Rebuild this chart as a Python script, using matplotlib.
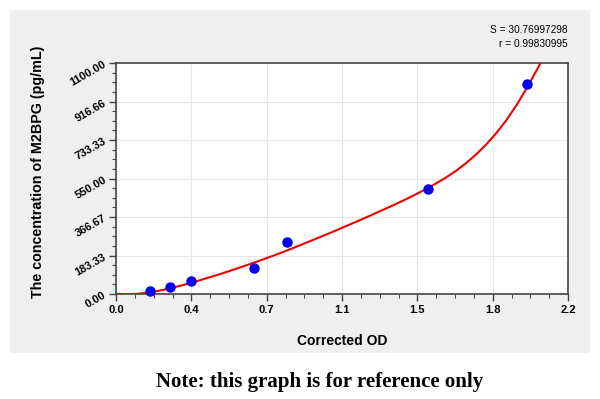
"""
Standard curve for M2BPG ELISA: measured standards and the fitted curve.
"""

# third party imports
import matplotlib
matplotlib.use("Agg")
from matplotlib import pyplot
from matplotlib.patches import Rectangle
from matplotlib.ticker import AutoMinorLocator


# standard points (corrected OD, concentration in pg/mL)
std_od = [0.165, 0.263, 0.363, 0.672, 0.830, 1.520, 2.000]
std_conc = [15.63, 31.25, 62.5, 125.0, 250.0, 500.0, 1000.0]

# fitted curve
curve_od = [0.00, 0.05, 0.09, 0.10, 0.15, 0.20, 0.25, 0.30, 0.35, 0.40,
            0.45, 0.50, 0.55, 0.60, 0.65, 0.70, 0.75, 0.80, 0.85, 0.90,
            0.95, 1.00, 1.05, 1.10, 1.15, 1.20, 1.25, 1.30, 1.35, 1.40,
            1.45, 1.50, 1.55, 1.60, 1.65, 1.70, 1.75, 1.80, 1.85, 1.90,
            1.95, 2.00, 2.05, 2.08]
curve_conc = [0, 0, 0, 0.5, 6, 14, 24, 36, 49, 63,
              78, 93, 109, 125, 142, 159, 177, 195, 214, 234,
              254, 274, 294, 315, 336, 357, 379, 401, 423, 446,
              470, 495, 522, 551, 583, 620, 662, 710, 765, 828,
              900, 982, 1070, 1125]

x_ticks = [0.0, 2.2 / 6, 2.2 * 2 / 6, 1.1, 2.2 * 4 / 6, 2.2 * 5 / 6, 2.2]
x_labels = ['0.0', '0.4', '0.7', '1.1', '1.5', '1.8', '2.2']
y_ticks = [0.0, 1100 / 6, 1100 * 2 / 6, 550.0, 1100 * 4 / 6, 1100 * 5 / 6,
           1100.0]
y_labels = ['0.00', '183.33', '366.67', '550.00', '733.33', '916.66',
            '1100.00']

fit_s = 'S = 30.76997298'
fit_r = 'r = 0.99830995'

pyplot.rcParams['font.family'] = ['Liberation Sans', 'DejaVu Sans']

fig = pyplot.figure(figsize=(6.0, 3.99), dpi=100)

# light grey panel behind the chart
fig.patches.append(Rectangle((10 / 600, 1 - 353 / 399), 580 / 600, 343 / 399,
                             transform=fig.transFigure, facecolor='#efefef',
                             edgecolor='none', zorder=-5))

ax = fig.add_axes([116 / 600, 1 - 294 / 399, 452 / 600, 231 / 399])
ax.set_facecolor('white')
ax.set_zorder(2)

ax.plot(curve_od, curve_conc, color='#ee0000', linewidth=1.5, zorder=3)
ax.plot(std_od, std_conc, 'o', color='#0000ee', markersize=6.5, zorder=4,
        clip_on=False)

ax.set_xlim(0, 2.2)
ax.set_ylim(0, 1100)
ax.set_xticks(x_ticks)
ax.set_xticklabels(x_labels, fontsize=8, fontweight='bold')
ax.set_yticks(y_ticks)
ax.set_yticklabels(y_labels, fontsize=8, fontweight='bold', rotation=30,
                   ha='right', rotation_mode='anchor')
ax.xaxis.set_minor_locator(AutoMinorLocator(4))
ax.yaxis.set_minor_locator(AutoMinorLocator(4))
ax.tick_params(which='major', direction='out', length=5, width=1,
               color='#444444', pad=3)
ax.tick_params(which='minor', direction='out', length=3, width=0.8,
               color='#444444')
ax.grid(True, which='major', color='#e6e6e6', linewidth=0.8)
ax.set_axisbelow(True)
for spine in ax.spines.values():
    spine.set_color('#444444')
    spine.set_linewidth(1.2)

ax.set_xlabel('Corrected OD', fontsize=10, fontweight='bold')
ax.xaxis.set_label_coords(0.5, -0.173)
ax.set_ylabel('The concentration of M2BPG (pg/mL)', fontsize=10.3,
              fontweight='bold')
ax.yaxis.set_label_coords(-0.157, 0.528)

fig.text(568 / 600, 1 - 30 / 399, fit_s, fontsize=7.3, ha='right',
         va='center')
fig.text(568 / 600, 1 - 44 / 399, fit_r, fontsize=7.3, ha='right',
         va='center')

fig.text(320 / 600, 1 - 382 / 399, 'Note: this graph is for reference only',
         fontsize=15, fontweight='bold', family='Liberation Serif',
         ha='center', va='center')

fig.savefig('out.png', dpi=100)
